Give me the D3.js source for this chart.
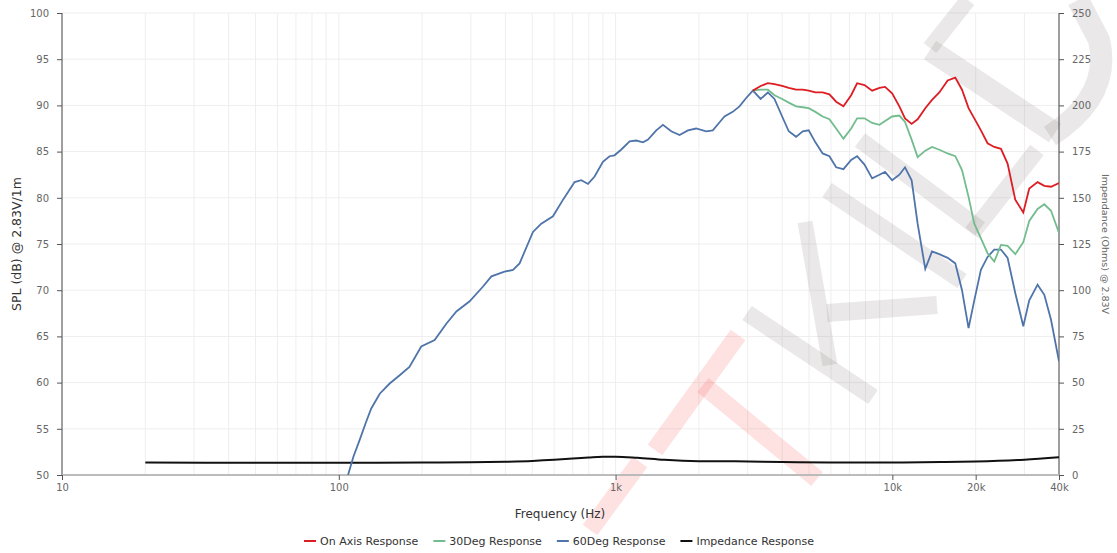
<!DOCTYPE html>
<html><head><meta charset="utf-8">
<script src="https://cdn.jsdelivr.net/npm/d3@7"></script>
<style>
html,body{margin:0;padding:0;background:#fff;}
svg{display:block;font-family:"DejaVu Sans",sans-serif;}
</style></head><body>
<svg id="chart" width="1117" height="553"></svg>
<script>
// ---------- DATA ----------
const xTickValues = [10, 100, 1000, 10000, 20000, 40000];
const xTickLabels = ["10", "100", "1k", "10k", "20k", "40k"];
const splTicks = [50, 55, 60, 65, 70, 75, 80, 85, 90, 95, 100];
const impTicks = [0, 25, 50, 75, 100, 125, 150, 175, 200, 225, 250];

// high-frequency measurement points shared by the three SPL curves
const hfFreq = [3134, 3342, 3550, 3751, 3998, 4224, 4491, 4745, 4986, 5272,
  5600, 5923, 6265, 6656, 7097, 7459, 7929, 8453, 8983, 9411,
  9980, 10600, 11110, 11740, 12340, 13150, 13910, 14780, 15840, 16880,
  17850, 18850, 19770, 20890, 22080, 23340, 24680, 26080, 27800, 29720,
  31230, 33470, 35400, 37430, 40000];

const onAxisDb = [91.6, 92.1, 92.4, 92.3, 92.1, 91.9, 91.7, 91.7, 91.6, 91.4,
  91.4, 91.2, 90.4, 89.9, 91.1, 92.4, 92.2, 91.6, 91.9, 92.0,
  91.3, 89.9, 88.6, 88.0, 88.5, 89.7, 90.6, 91.4, 92.7, 93.0,
  91.7, 89.7, 88.6, 87.3, 85.9, 85.5, 85.3, 83.7, 79.8, 78.4,
  81.0, 81.7, 81.3, 81.2, 81.6];

const deg30Db = [91.6, 91.7, 91.7, 91.1, 90.7, 90.3, 89.9, 89.8, 89.7, 89.3,
  88.8, 88.5, 87.5, 86.4, 87.5, 88.6, 88.6, 88.1, 87.9, 88.3,
  88.8, 88.9, 88.2, 86.3, 84.4, 85.1, 85.5, 85.2, 84.8, 84.5,
  83.0, 80.1, 77.2, 75.6, 74.0, 73.1, 74.9, 74.8, 73.9, 75.2,
  77.5, 78.8, 79.3, 78.6, 76.2];

// 60 degree curve: low/mid part then the shared high-frequency points
const deg60LowFreq = [104, 108, 113, 119, 125, 131, 140.6, 152.7, 166, 180,
  198.6, 222, 245, 266, 297, 332, 356, 397, 426, 450,
  503, 539, 594, 646, 711, 752, 795, 840, 900, 951,
  991, 1047, 1124, 1188, 1256, 1310, 1403, 1483, 1589, 1703,
  1825, 1955, 2125, 2245, 2380, 2474, 2650, 2803, 2964];
const deg60LowDb = [48.6, 50.0, 52.0, 53.8, 55.6, 57.2, 58.8, 59.9, 60.8, 61.7,
  63.9, 64.6, 66.4, 67.7, 68.8, 70.4, 71.5, 72.0, 72.2, 72.9,
  76.3, 77.2, 78.0, 79.8, 81.7, 81.9, 81.5, 82.3, 83.9, 84.5,
  84.6, 85.2, 86.1, 86.2, 86.0, 86.3, 87.3, 87.9, 87.2, 86.8,
  87.3, 87.5, 87.2, 87.3, 88.2, 88.8, 89.3, 89.9, 90.8];
const deg60HighDb = [91.6, 90.7, 91.4, 90.7, 88.8, 87.2, 86.6, 87.2, 87.3, 86.0,
  84.8, 84.5, 83.3, 83.1, 84.1, 84.5, 83.6, 82.1, 82.5, 82.8,
  81.9, 82.5, 83.3, 81.9, 77.2, 72.3, 74.2, 73.9, 73.5, 72.9,
  70.0, 65.9, 68.9, 72.2, 73.6, 74.4, 74.4, 73.5, 69.7, 66.1,
  68.9, 70.6, 69.5, 66.8, 62.3];

const impFreq = [20, 50, 100, 200, 300, 400, 500, 600, 700, 800,
  900, 1000, 1200, 1500, 2000, 2700, 4000, 6000, 10000, 15000,
  20000, 30000, 40000];
const impOhm = [6.7, 6.6, 6.6, 6.7, 6.9, 7.2, 7.6, 8.2, 8.9, 9.5,
  9.9, 9.9, 9.3, 8.2, 7.5, 7.4, 7.0, 6.8, 6.8, 7.0,
  7.3, 8.3, 9.6];

const seriesNames = ["On Axis Response", "30Deg Response", "60Deg Response", "Impedance Response"];
const seriesColors = ["#dd1c23", "#72bc8e", "#4f74aa", "#111111"];

// ---------- CHART ----------
const svg = d3.select("#chart");
const m = {left: 62, right: 1059, top: 13, bottom: 475};

const x = d3.scaleLog().domain([10, 40000]).range([m.left, m.right]);
const y = d3.scaleLinear().domain([50, 100]).range([m.bottom, m.top]);
const y2 = d3.scaleLinear().domain([0, 250]).range([m.bottom, m.top]);

// vertical grid (log minor)
const gridX = [];
for (let d = 10; d <= 10000; d *= 10) for (let k = 1; k <= 9; k++) { const v = d * k; if (v <= 40000) gridX.push(v); }
gridX.push(40000);
svg.append("g").selectAll("line").data(gridX).join("line")
  .attr("x1", d => x(d)).attr("x2", d => x(d))
  .attr("y1", m.top).attr("y2", m.bottom)
  .attr("stroke", "#eeeeee").attr("stroke-width", 1);

// horizontal grid
svg.append("g").selectAll("line").data(splTicks).join("line")
  .attr("x1", m.left).attr("x2", m.right)
  .attr("y1", d => y(d)).attr("y2", d => y(d))
  .attr("stroke", "#eeeeee").attr("stroke-width", 1);

// faint watermark (decorative background)
const wmGray = "rgba(150,140,140,0.2)";
const wmPink = "rgba(250,90,90,0.18)";
const wm = svg.append("g").attr("fill", "none").attr("stroke-linecap", "butt");
[
  ["M930,48L968,0", 16, wmGray],
  ["M930,50L1055,133", 22, wmGray],
  ["M1050,136Q1112,96 1099,40L1078,0", 22, wmGray],
  ["M860,140L980,229", 17, wmGray],
  ["M972,233L1037,150", 17, wmGray],
  ["M827,190L962,281", 17, wmGray],
  ["M805,222L830,365", 15, wmGray],
  ["M827,313L937,305", 18, wmGray],
  ["M747,313L873,397", 17, wmGray],
  ["M738,335L655,450", 18, wmPink],
  ["M703,385L817,479", 18, wmPink],
  ["M640,462L590,530", 18, wmPink]
].forEach(([d, w, c]) => wm.append("path").attr("d", d).attr("stroke", c).attr("stroke-width", w));

// axes
const gl = svg.append("g").attr("transform", `translate(${m.left},0)`)
  .call(d3.axisLeft(y).tickValues(splTicks).tickSize(5).tickPadding(8));
const gr = svg.append("g").attr("transform", `translate(${m.right},0)`)
  .call(d3.axisRight(y2).tickValues(impTicks).tickSize(5).tickPadding(8));
const gb = svg.append("g").attr("transform", `translate(0,${m.bottom})`)
  .call(d3.axisBottom(x).tickValues(xTickValues).tickFormat((d, i) => xTickLabels[i]).tickSize(5).tickPadding(4));
[gl, gr, gb].forEach(g => {
  g.select(".domain").attr("stroke", "#666").attr("stroke-width", 1.2);
  g.selectAll(".tick line").attr("stroke", "#555");
  g.selectAll(".tick text").attr("fill", "#666").style("font-size", "10px").style("font-family", "DejaVu Sans");
});
gb.select(".domain").attr("stroke", "#bbb").attr("stroke-width", 2).attr("d", `M${m.left},0H${m.right}`);
gl.select(".domain").attr("d", `M0,${m.top}V${m.bottom}`);
gr.select(".domain").attr("d", `M0,${m.top}V${m.bottom}`);

// clip
svg.append("clipPath").attr("id", "clip").append("rect")
  .attr("x", m.left).attr("y", m.top).attr("width", m.right - m.left).attr("height", m.bottom - m.top);

const plot = svg.append("g").attr("clip-path", "url(#clip)");
const lineSpl = d3.line().x(d => x(d[0])).y(d => y(d[1]));
const lineImp = d3.line().x(d => x(d[0])).y(d => y2(d[1])).curve(d3.curveMonotoneX);

const zip = (a, b) => a.map((v, i) => [v, b[i]]);
const deg60 = zip(deg60LowFreq.concat(hfFreq), deg60LowDb.concat(deg60HighDb));

plot.append("path").datum(zip(impFreq, impOhm)).attr("d", lineImp)
  .attr("fill", "none").attr("stroke", seriesColors[3]).attr("stroke-width", 2);
plot.append("path").datum(deg60).attr("d", lineSpl)
  .attr("fill", "none").attr("stroke", seriesColors[2]).attr("stroke-width", 1.8);
plot.append("path").datum(zip(hfFreq, deg30Db)).attr("d", lineSpl)
  .attr("fill", "none").attr("stroke", seriesColors[1]).attr("stroke-width", 1.8);
plot.append("path").datum(zip(hfFreq, onAxisDb)).attr("d", lineSpl)
  .attr("fill", "none").attr("stroke", seriesColors[0]).attr("stroke-width", 1.8);

// titles
svg.append("text").attr("transform", `translate(21,${(m.top + m.bottom) / 2}) rotate(-90)`)
  .attr("text-anchor", "middle").attr("fill", "#333").style("font-size", "12.5px")
  .text("SPL (dB) @ 2.83V/1m");
svg.append("text").attr("transform", `translate(1102,${(m.top + m.bottom) / 2}) rotate(90)`)
  .attr("text-anchor", "middle").attr("fill", "#666").style("font-size", "9.5px")
  .text("Impendance (Ohms) @ 2.83V");
svg.append("text").attr("x", 560).attr("y", 518)
  .attr("text-anchor", "middle").attr("fill", "#333").style("font-size", "12px")
  .text("Frequency (Hz)");

// legend
const leg = svg.append("g");
let lx = 0;
seriesNames.forEach((n, i) => {
  const g = leg.append("g").attr("transform", `translate(${lx},0)`);
  g.append("line").attr("x1", 0).attr("x2", 12).attr("y1", 0).attr("y2", 0)
    .attr("stroke", seriesColors[i]).attr("stroke-width", 2);
  const t = g.append("text").attr("x", 16).attr("y", 4).attr("fill", "#333")
    .style("font-size", "11px").text(n);
  lx += 16 + t.node().getComputedTextLength() + 15;
});
const legW = lx - 15;
leg.attr("transform", `translate(${(559 - legW / 2)},541)`);
</script>
</body></html>
